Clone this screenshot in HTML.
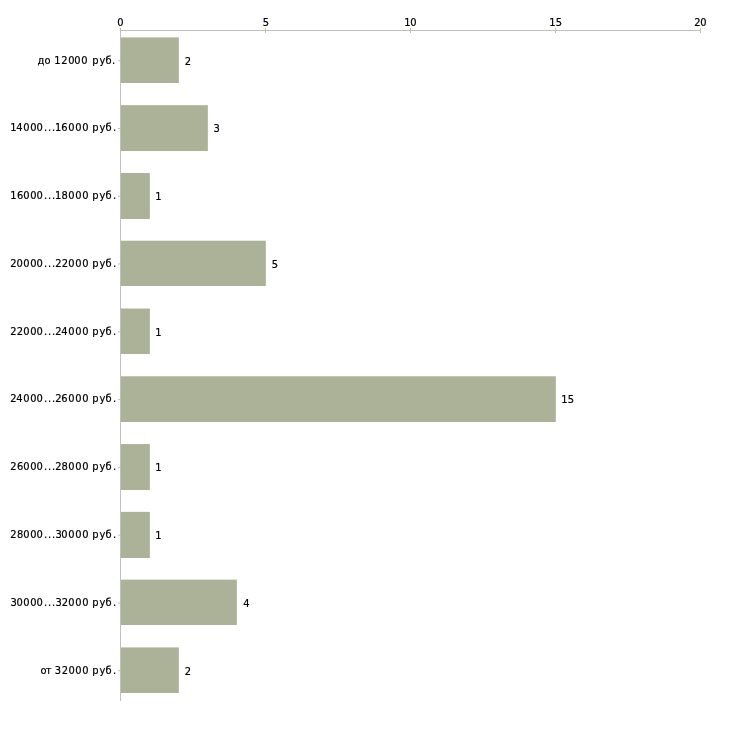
<!DOCTYPE html>
<html lang="ru"><head><meta charset="utf-8"><title>Зарплаты</title>
<style>html,body{margin:0;padding:0;background:#fff;overflow:hidden}svg{display:block}text{font-family:"DejaVu Sans Condensed", "DejaVu Sans", "Liberation Sans", sans-serif;font-size:11px;fill:#000;white-space:pre;stroke:#000;stroke-width:0.2}</style></head><body>
<svg width="730" height="730" viewBox="0 0 730 730">
<rect x="0" y="0" width="730" height="730" fill="#fff"/>
<g fill="#acb298">
<rect x="121" y="37.38" width="57.85" height="45.62"/>
<rect x="121" y="105.16" width="86.85" height="45.84"/>
<rect x="121" y="172.94" width="28.85" height="46.06"/>
<rect x="121" y="240.72" width="144.85" height="45.28"/>
<rect x="121" y="308.50" width="28.85" height="45.50"/>
<rect x="121" y="376.28" width="434.85" height="45.72"/>
<rect x="121" y="444.06" width="28.85" height="45.94"/>
<rect x="121" y="511.84" width="28.85" height="46.16"/>
<rect x="121" y="579.62" width="115.85" height="45.38"/>
<rect x="121" y="647.40" width="57.85" height="45.60"/>
</g>
<g fill="#c0c0c0">
<rect x="120" y="30" width="1" height="671"/>
<rect x="120" y="30" width="581" height="1"/>
</g>
<g fill="#c3c392">
<rect x="120" y="28" width="1" height="2" fill="#bdb76b"/>
<rect x="265" y="28" width="1" height="5"/>
<rect x="410" y="28" width="1" height="5"/>
<rect x="555" y="28" width="1" height="5"/>
<rect x="700" y="28" width="1" height="5"/>
<rect x="118" y="60.20" width="3" height="1"/>
<rect x="118" y="127.98" width="3" height="1"/>
<rect x="118" y="195.76" width="3" height="1"/>
<rect x="118" y="263.54" width="3" height="1"/>
<rect x="118" y="331.32" width="3" height="1"/>
<rect x="118" y="399.10" width="3" height="1"/>
<rect x="118" y="466.88" width="3" height="1"/>
<rect x="118" y="534.66" width="3" height="1"/>
<rect x="118" y="602.44" width="3" height="1"/>
<rect x="118" y="670.22" width="3" height="1"/>
</g>
<text x="117.25" y="26">0</text>
<text x="262.75" y="26">5</text>
<text x="404.25 410.25" y="26">10</text>
<text x="549.25 555.75" y="26">15</text>
<text x="694.25 700.25" y="26">20</text>
<text x="37.5 44.5 50.5 54.25 61.25 68.25 74.25 81.25 88.5 92.25 99.5 105.5 112" y="64">до 12000 руб.</text>
<text x="184.75" y="65">2</text>
<text x="10.25 16.25 23.25 30.25 36.5 44 48 52 55 61.25 68.25 75.25 82.25 88.5 92.25 99.5 105.5 113" y="131">14000...16000 руб.</text>
<text x="213.5" y="132">3</text>
<text x="10.25 17 23.25 30.25 36.5 44 48 52 55 61.5 68.25 75.25 82.25 88.5 92.25 99.5 105.5 113" y="199">16000...18000 руб.</text>
<text x="155.25" y="200">1</text>
<text x="10.25 16.5 23.25 30.25 36.5 44 48 52 55.25 61.75 68.25 75.25 82.25 88.5 92.25 99.5 105.5 113" y="267">20000...22000 руб.</text>
<text x="271.75" y="268">5</text>
<text x="10.25 16.75 23.25 30.25 36.5 44 48 52 55.25 61.25 68.25 75.25 82.25 88.5 92.25 99.5 105.5 113" y="335">22000...24000 руб.</text>
<text x="155.25" y="336">1</text>
<text x="10.25 16.25 23.25 30.25 36.5 44 48 52 55.25 61.25 68.25 75.25 82.25 88.5 92.25 99.5 105.5 113" y="402">24000...26000 руб.</text>
<text x="561.25 567.75" y="403">15</text>
<text x="10.25 17 23.25 30.25 36.5 44 48 52 55.25 61.5 68.25 75.25 82.25 88.5 92.25 99.5 105.5 113" y="470">26000...28000 руб.</text>
<text x="155.25" y="471">1</text>
<text x="10.25 17 23.25 30.25 36.5 44 48 52 55.5 61.25 68.25 75.25 82.25 88.5 92.25 99.5 105.5 113" y="538">28000...30000 руб.</text>
<text x="155.25" y="539">1</text>
<text x="10.5 16.5 23.25 30.25 36.5 44 48 52 55.5 61.75 68.25 75.25 82.25 88.5 92.25 99.5 105.5 113" y="606">30000...32000 руб.</text>
<text x="243.25" y="607">4</text>
<text x="40.5 45.75 51.5 54.75 61.75 68.5 75.25 82.25 88.5 92.25 99.5 105.5 113" y="674">от 32000 руб.</text>
<text x="184.75" y="675">2</text>
</svg></body></html>
